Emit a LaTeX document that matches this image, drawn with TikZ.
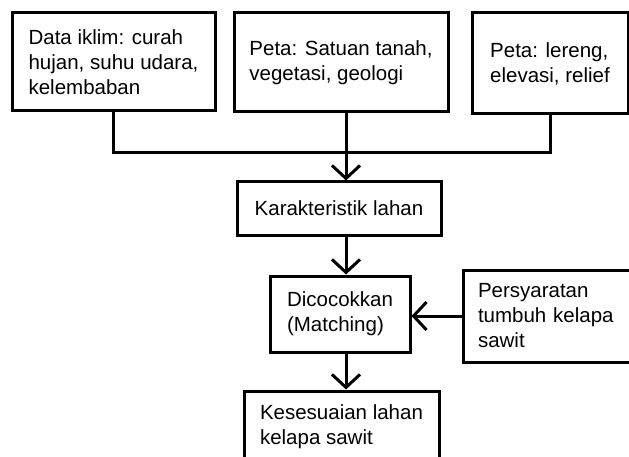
\documentclass[tikz,border=0pt]{standalone}
\usepackage{fontspec}
\setmainfont{Liberation Sans}
\usepackage{xcolor}
\usepackage{tikz}
\usetikzlibrary{arrows.meta}

\begin{document}
\begin{tikzpicture}[x=1pt, y=-1pt, line width=3pt]
      % Definisi gaya
      \tikzstyle{kotak}=[draw, align=left, inner sep=0pt, font=\fontsize{20.5}{25}\selectfont]
      \tikzstyle{panah}=[-{Straight Barb[length=13pt, width=28pt]}]

      \useasboundingbox (0,0) rectangle (629,457);
      \clip (0,0) rectangle (629,457);

      % Data masukan
      \node[kotak, minimum width=203pt, minimum height=98pt] (iklim) at (113.5,62) {Data iklim: curah\\hujan, suhu udara,\\kelembaban};
      \node[kotak, minimum width=214pt, minimum height=99pt] (tanah) at (341,62.5) {Peta: Satuan tanah,\\vegetasi, geologi};
      \node[kotak, minimum width=156pt, minimum height=101pt] (lereng) at (550,63.5) {Peta: lereng,\\elevasi, relief};

      % Proses
      \node[kotak, minimum width=204pt, minimum height=53pt] (karakter) at (339,208.5) {Karakteristik lahan};
      \node[kotak, minimum width=140pt, minimum height=76pt] (cocok) at (340,314) {Dicocokkan\\(Matching)};
      \node[kotak, text width=150pt, inner xsep=15pt, minimum height=92pt] (syarat) at (553,316) {Persyaratan\\tumbuh kelapa\\sawit};
      \node[kotak, minimum width=195pt, minimum height=71pt] (sesuai) at (341.5,426.5) {Kesesuaian lahan\\kelapa sawit};

      % Sambungan
      \coordinate (simpul) at (346,153);
      \draw (iklim.south) |- (simpul) -| (lereng.south);
      \draw (tanah.south -| simpul) -- (simpul);
      \draw[panah] (simpul) -- (simpul |- karakter.north);
      \draw[panah] (karakter.south -| simpul) -- (simpul |- cocok.north);
      \draw[panah] (cocok.south -| simpul) -- (simpul |- sesuai.north);
      \draw[panah] (syarat.west) -- (syarat.west -| cocok.east);
    \end{tikzpicture}
\end{document}
